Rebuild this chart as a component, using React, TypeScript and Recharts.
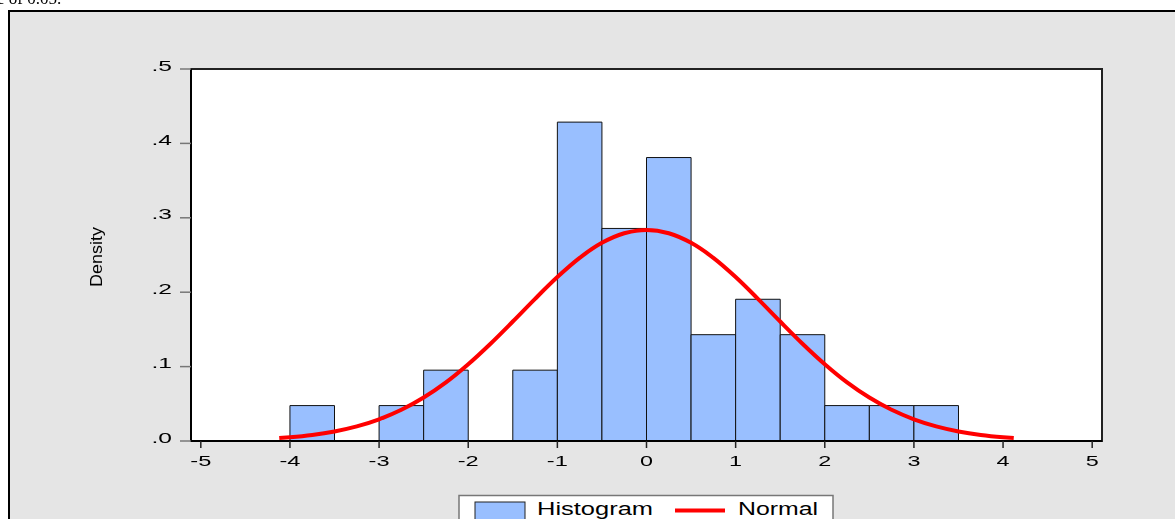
import React from 'react';
import {
  ComposedChart,
  Line,
  XAxis,
  YAxis,
  CartesianGrid,
  ReferenceArea,
} from 'recharts';

// Histogram bins (left edge, right edge, density)
const binStarts = [-4, -3.5, -3, -2.5, -2, -1.5, -1, -0.5, 0, 0.5, 1, 1.5, 2, 2.5, 3];
const binEnds = [-3.5, -3, -2.5, -2, -1.5, -1, -0.5, 0, 0.5, 1, 1.5, 2, 2.5, 3, 3.5];
const densities = [
  0.0476, 0, 0.0476, 0.0952, 0, 0.0952, 0.4286, 0.2857, 0.381, 0.1429, 0.1905, 0.1429,
  0.0476, 0.0476, 0.0476,
];

// Normal density curve
const curveX = [
  -4.12, -4, -3.75, -3.5, -3.25, -3, -2.75, -2.5, -2.25, -2, -1.75, -1.5, -1.25, -1, -0.75,
  -0.5, -0.25, 0, 0.25, 0.5, 0.75, 1, 1.25, 1.5, 1.75, 2, 2.25, 2.5, 2.75, 3, 3.25, 3.5,
  3.75, 4, 4.12,
];
const curveY = [
  0.0039, 0.005, 0.0081, 0.0128, 0.0196, 0.0291, 0.0419, 0.0584, 0.0788, 0.1032, 0.1308,
  0.1606, 0.1911, 0.2203, 0.2461, 0.2663, 0.2792, 0.2837, 0.2792, 0.2663, 0.2461, 0.2203,
  0.1911, 0.1606, 0.1308, 0.1032, 0.0788, 0.0584, 0.0419, 0.0291, 0.0196, 0.0128, 0.0081,
  0.005, 0.0039,
];

const xTicks = [-5, -4, -3, -2, -1, 0, 1, 2, 3, 4, 5];
const xTickLabels = ['-5', '-4', '-3', '-2', '-1', '0', '1', '2', '3', '4', '5'];
const yTicks = [0, 0.1, 0.2, 0.3, 0.4, 0.5];
const yTickLabels = ['.0', '.1', '.2', '.3', '.4', '.5'];

const yLabel = 'Density';
const legendLabels = ['Histogram', 'Normal'];

const curveData = curveX.map((x, i) => ({ x, y: curveY[i] }));

const FONT = '"Liberation Sans", Arial, sans-serif';
const BAR_FILL = '#99bfff';

const XTick = (props: any) => {
  const { x, y, payload } = props;
  const idx = xTicks.indexOf(payload.value);
  const label = idx >= 0 ? xTickLabels[idx] : String(payload.value);
  const w = label.length > 1 ? 21 : 13;
  return (
    <text
      x={x}
      y={y}
      dy="0.71em"
      textAnchor="middle"
      fontSize={15}
      fontFamily={FONT}
      fill="#000"
      textLength={w}
      lengthAdjust="spacingAndGlyphs"
    >
      {label}
    </text>
  );
};

const YTick = (props: any) => {
  const { x, y, payload } = props;
  const idx = yTicks.findIndex((v) => Math.abs(v - payload.value) < 1e-9);
  const label = idx >= 0 ? yTickLabels[idx] : String(payload.value);
  return (
    <text
      x={x}
      y={y}
      dy={1.5}
      textAnchor="end"
      fontSize={14.5}
      fontFamily={FONT}
      fill="#000"
      textLength={20.5}
      lengthAdjust="spacingAndGlyphs"
    >
      {label}
    </text>
  );
};

export default function App() {
  return (
    <div style={{ position: 'relative', width: 1175, height: 519 }}>
      {/* text fragment of the surrounding document */}
      <div
        style={{
          position: 'fixed',
          left: -3,
          top: -11,
          fontFamily: '"Liberation Serif", "Times New Roman", serif',
          fontSize: 17,
          whiteSpace: 'nowrap',
          color: '#000',
        }}
      >
        e of 0.05.
      </div>
      {/* grey frame */}
      <div
        style={{
          position: 'fixed',
          left: 8,
          top: 10,
          width: 1190,
          height: 530,
          border: '2px solid #000',
          background: '#e5e5e5',
          boxSizing: 'border-box',
        }}
      />
      <div style={{ position: 'fixed', left: 0, top: 0 }}>
        <ComposedChart
          width={1175}
          height={519}
          data={curveData}
          margin={{ top: 69, right: 73, bottom: 48, left: 130 }}
        >
          <CartesianGrid fill="#ffffff" horizontal={false} vertical={false} />
          <XAxis
            dataKey="x"
            type="number"
            domain={[-5.11, 5.11]}
            ticks={xTicks}
            allowDataOverflow
            interval={0}
            height={30}
            tickSize={7}
            tickMargin={7.5}
            axisLine={{ stroke: '#000', strokeWidth: 2 }}
            tickLine={{ stroke: '#222', strokeWidth: 1.5 }}
            tick={<XTick />}
          />
          <YAxis
            type="number"
            domain={[0, 0.5]}
            ticks={yTicks}
            allowDataOverflow
            interval={0}
            width={61}
            tickSize={11}
            tickMargin={8}
            axisLine={{ stroke: '#000', strokeWidth: 2 }}
            tickLine={{ stroke: '#777', strokeWidth: 1.5 }}
            tick={<YTick />}
          />
          {binStarts.map((s, i) =>
            densities[i] > 0 ? (
              <ReferenceArea
                key={'bin' + i}
                x1={s}
                x2={binEnds[i]}
                y1={0}
                y2={densities[i]}
                fill={BAR_FILL}
                fillOpacity={1}
                stroke="#111"
                strokeWidth={1}
                strokeOpacity={1}
                ifOverflow="visible"
              />
            ) : null
          )}
          <ReferenceArea
            x1={-5.11}
            x2={5.11}
            y1={0}
            y2={0.5}
            fill="none"
            stroke="#222"
            strokeWidth={2}
            strokeOpacity={1}
            ifOverflow="visible"
          />
          <Line
            dataKey="y"
            type="monotone"
            stroke="#ff0000"
            strokeWidth={4}
            dot={false}
            activeDot={false}
            isAnimationActive={false}
          />
        </ComposedChart>
      </div>
      {/* y axis title and legend */}
      <svg
        width={1175}
        height={519}
        style={{ position: 'fixed', left: 0, top: 0, pointerEvents: 'none' }}
      >
        <text
          x={0}
          y={0}
          transform="translate(102, 257) rotate(-90)"
          textAnchor="middle"
          fontSize={16.5}
          fontFamily={'"Liberation Sans Narrow", "Arial Narrow", ' + FONT}
          fill="#000"
          textLength={60}
          lengthAdjust="spacingAndGlyphs"
        >
          {yLabel}
        </text>
        <rect x={459} y={495.5} width={374} height={40} fill="#fff" stroke="#777" strokeWidth={1.5} />
        <rect x={475} y={502} width={50} height={30} fill={BAR_FILL} stroke="#222" strokeWidth={1} />
        <text
          x={537}
          y={514.5}
          fontSize={17.5}
          fontFamily={FONT}
          fill="#000"
          textLength={116}
          lengthAdjust="spacingAndGlyphs"
        >
          {legendLabels[0]}
        </text>
        <line x1={675} x2={725} y1={510.5} y2={510.5} stroke="#ff0000" strokeWidth={4} />
        <text
          x={738}
          y={514.5}
          fontSize={17.5}
          fontFamily={FONT}
          fill="#000"
          textLength={80}
          lengthAdjust="spacingAndGlyphs"
        >
          {legendLabels[1]}
        </text>
      </svg>
    </div>
  );
}
